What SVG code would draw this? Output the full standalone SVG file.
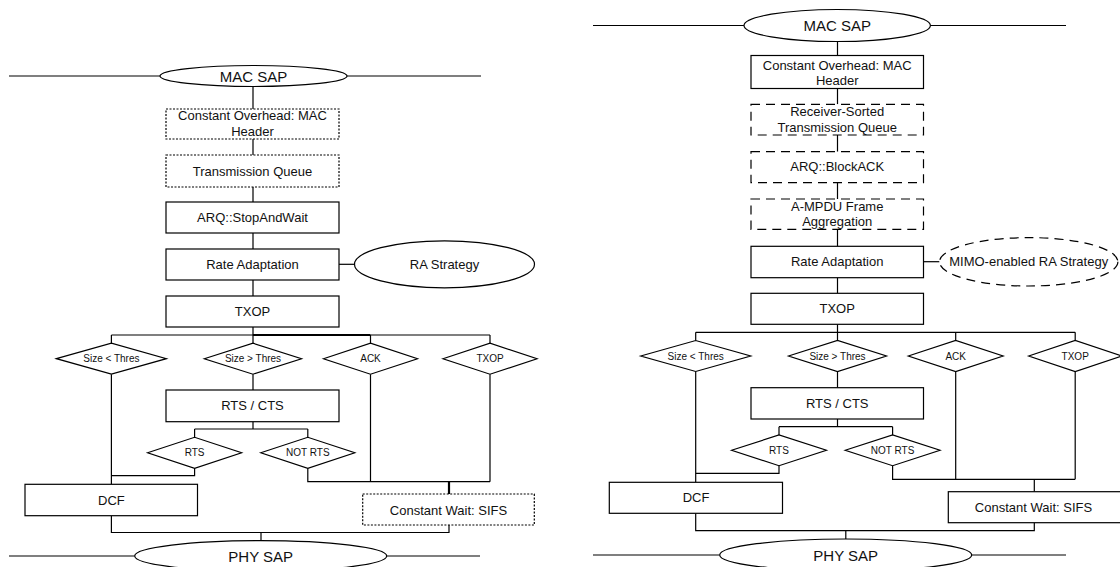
<svg xmlns="http://www.w3.org/2000/svg" width="1120" height="567" viewBox="0 0 1120 567">
<style>
  .bg{fill:#ffffff}
  .box{fill:#ffffff;stroke:#000;stroke-width:1.2}
  .dot{fill:#ffffff;stroke:#000;stroke-width:1.2;stroke-dasharray:2,1.5}
  .dash{fill:#ffffff;stroke:#000;stroke-width:1.2;stroke-dasharray:9,6}
  .ln{fill:none;stroke:#000;stroke-width:1.2}
  .thk{fill:none;stroke:#000;stroke-width:2.2}
  text{font-family:"Liberation Sans",Arial,sans-serif;fill:#111;text-anchor:middle;dominant-baseline:central}
  .t13{font-size:13px}
  .t15{font-size:15px}
  .t10{font-size:10px}
</style>
<rect class="bg" x="0" y="0" width="1120" height="567"/>

<!-- ================= LEFT DIAGRAM ================= -->
<g id="left-connectors">
  <path class="ln" d="M9,76 H160 M347,76 H481"/>
  <path class="ln" d="M253,86 V109 M253,139 V155 M253,187 V202 M253,233 V249 M253,280 V296 M253,327 V335"/>
  <path class="ln" d="M339,264.3 H354.6"/>
  <path class="ln" d="M111.4,335 H253 M370.5,335 H490 M111.4,335 V343.2 M253,335 V343.2 M370.5,335 V343.2 M490,335 V343.2"/>
  <path class="thk" d="M253,335 H370.5"/>
  <path class="ln" d="M253,374.2 V390 M253,421.7 V429 M194.6,429 H307.8 M194.6,429 V437.3 M307.8,429 V437.3"/>
  <path class="ln" d="M194.6,468.3 V475.7 H111.4 M111.4,374.2 V484.3"/>
  <path class="ln" d="M307.8,468.3 V481.7 H490 M370.5,374.2 V481.7 M490,374.2 V481.7"/>
  <path class="thk" d="M449,481.7 V494"/>
  <path class="ln" d="M111.4,515.7 V532.5 H449 V525 M261,532.5 V540.7"/>
  <path class="ln" d="M9,556 H134.7 M386.7,556 H480"/>
</g>

<g id="L-macsap"><ellipse class="box" cx="253.5" cy="76" rx="93.5" ry="10.5"/><text class="t15" x="253.5" y="76">MAC SAP</text></g>
<g id="L-overhead"><rect class="dot" x="166" y="109" width="173" height="30"/><text class="t13" x="252.5" y="115.5">Constant Overhead: MAC</text><text class="t13" x="252.5" y="131">Header</text></g>
<g id="L-queue"><rect class="dot" x="166" y="155" width="173" height="32"/><text class="t13" x="252.5" y="171">Transmission Queue</text></g>
<g id="L-arq"><rect class="box" x="166" y="202" width="173" height="31"/><text class="t13" x="252.5" y="217.5">ARQ::StopAndWait</text></g>
<g id="L-ra"><rect class="box" x="166" y="249" width="173" height="31"/><text class="t13" x="252.5" y="264.5">Rate Adaptation</text></g>
<g id="L-rastrategy"><ellipse class="box" cx="444.5" cy="264.3" rx="90" ry="23.5"/><text class="t13" x="444.5" y="264.3">RA Strategy</text></g>
<g id="L-txop"><rect class="box" x="166" y="296" width="173" height="31"/><text class="t13" x="252.5" y="311.5">TXOP</text></g>
<g id="L-d-small"><polygon class="box" points="56.4,358.7 111.4,343.2 166.4,358.7 111.4,374.2"/><text class="t10" x="111.4" y="358.7">Size &lt; Thres</text></g>
<g id="L-d-large"><polygon class="box" points="204.3,358.7 253,343.2 301.5,358.7 253,374.2"/><text class="t10" x="253" y="358.7">Size &gt; Thres</text></g>
<g id="L-d-ack"><polygon class="box" points="323.5,358.7 370.5,343.2 417.5,358.7 370.5,374.2"/><text class="t10" x="370.5" y="358.7">ACK</text></g>
<g id="L-d-txop"><polygon class="box" points="443,358.7 490,343.2 537,358.7 490,374.2"/><text class="t10" x="490" y="358.7">TXOP</text></g>
<g id="L-rtscts"><rect class="box" x="166" y="390" width="173" height="31.7"/><text class="t13" x="252.5" y="405.8">RTS / CTS</text></g>
<g id="L-d-rts"><polygon class="box" points="147.6,452.8 194.6,437.3 241.6,452.8 194.6,468.3"/><text class="t10" x="194.6" y="452.8">RTS</text></g>
<g id="L-d-notrts"><polygon class="box" points="260.8,452.8 307.8,437.3 354.8,452.8 307.8,468.3"/><text class="t10" x="307.8" y="452.8">NOT RTS</text></g>
<g id="L-dcf"><rect class="box" x="25" y="484.3" width="172.5" height="31.4"/><text class="t13" x="111.4" y="500">DCF</text></g>
<g id="L-sifs"><rect class="dot" x="362.7" y="494" width="171.6" height="31"/><text class="t13" x="448.5" y="510.5">Constant Wait: SIFS</text></g>
<g id="L-physap"><ellipse class="box" cx="260.7" cy="556" rx="126" ry="15.3"/><text class="t15" x="260.7" y="556">PHY SAP</text></g>

<!-- ================= RIGHT DIAGRAM ================= -->
<g id="right-connectors">
  <path class="ln" d="M593,25.5 H744 M930.5,25.5 H1066"/>
  <path class="ln" d="M837.5,41.5 V55.5 M837.5,88.5 V104.3 M837.5,135 V151.7 M837.5,182.7 V199 M837.5,229.3 V246.3 M837.5,277.7 V293.3 M837.5,324.3 V332.3"/>
  <path class="ln" d="M923.5,261.7 H939.5"/>
  <path class="ln" d="M695.7,332.3 H1075.2 M695.7,332.3 V340.5 M837.5,332.3 V340.5 M955.7,332.3 V340.5 M1075.2,332.3 V340.5"/>
  <path class="ln" d="M837.5,371.5 V387.7 M837.5,419 V426.7 M779,426.7 H892.6 M779,426.7 V435 M892.6,426.7 V435"/>
  <path class="ln" d="M779,465.7 V473.3 H695.7 M695.7,371.5 V482.3"/>
  <path class="ln" d="M892.6,465.7 V479.3 H1075.2 M955.7,371.5 V479.3 M1075.2,371.5 V479.3 M1034.3,479.3 V491.7"/>
  <path class="ln" d="M695.7,513.3 V530.7 H1034.3 V522.7 M845.8,530.7 V539"/>
  <path class="ln" d="M593,555 H719.7 M971.7,555 H1066"/>
</g>

<g id="R-macsap"><ellipse class="box" cx="837.2" cy="25.5" rx="93.2" ry="16"/><text class="t15" x="837.2" y="25.5">MAC SAP</text></g>
<g id="R-overhead"><rect class="box" x="751" y="55.5" width="172.5" height="33"/><text class="t13" x="837.2" y="65">Constant Overhead: MAC</text><text class="t13" x="837.2" y="80.7">Header</text></g>
<g id="R-queue"><rect class="dash" x="751" y="104.3" width="172.5" height="30.7"/><text class="t13" x="837.2" y="111.7">Receiver-Sorted</text><text class="t13" x="837.2" y="127.3">Transmission Queue</text></g>
<g id="R-arq"><rect class="dash" x="751" y="151.7" width="172.5" height="31"/><text class="t13" x="837.2" y="166.7">ARQ::BlockACK</text></g>
<g id="R-ampdu"><rect class="dash" x="751" y="199" width="172.5" height="30.3"/><text class="t13" x="837.2" y="206">A-MPDU Frame</text><text class="t13" x="837.2" y="221.7">Aggregation</text></g>
<g id="R-ra"><rect class="box" x="751" y="246.3" width="172.5" height="31.4"/><text class="t13" x="837.2" y="261.5">Rate Adaptation</text></g>
<g id="R-mimo"><ellipse class="dash" cx="1028.7" cy="261.8" rx="89.2" ry="24.2"/><text class="t13" x="1028.7" y="261.8">MIMO-enabled RA Strategy</text></g>
<g id="R-txop"><rect class="box" x="751" y="293.3" width="172.5" height="31"/><text class="t13" x="837.2" y="308.8">TXOP</text></g>
<g id="R-d-small"><polygon class="box" points="640.7,356 695.7,340.5 750.7,356 695.7,371.5"/><text class="t10" x="695.7" y="356">Size &lt; Thres</text></g>
<g id="R-d-large"><polygon class="box" points="788.5,356 837.5,340.5 886.5,356 837.5,371.5"/><text class="t10" x="837.5" y="356">Size &gt; Thres</text></g>
<g id="R-d-ack"><polygon class="box" points="908.3,356 955.7,340.5 1003.1,356 955.7,371.5"/><text class="t10" x="955.7" y="356">ACK</text></g>
<g id="R-d-txop"><polygon class="box" points="1028.7,356 1075.2,340.5 1121.7,356 1075.2,371.5"/><text class="t10" x="1075.2" y="356">TXOP</text></g>
<g id="R-rtscts"><rect class="box" x="751" y="387.7" width="172.5" height="31.3"/><text class="t13" x="837.2" y="403.3">RTS / CTS</text></g>
<g id="R-d-rts"><polygon class="box" points="731.6,450.3 779,435 826.4,450.3 779,465.7"/><text class="t10" x="779" y="450.3">RTS</text></g>
<g id="R-d-notrts"><polygon class="box" points="845.2,450.3 892.6,435 940,450.3 892.6,465.7"/><text class="t10" x="892.6" y="450.3">NOT RTS</text></g>
<g id="R-dcf"><rect class="box" x="609.3" y="482.3" width="173.2" height="31"/><text class="t13" x="696" y="497.8">DCF</text></g>
<g id="R-sifs"><rect class="box" x="948.3" y="491.7" width="173" height="31"/><text class="t13" x="1033.5" y="507.5">Constant Wait: SIFS</text></g>
<g id="R-physap"><ellipse class="box" cx="845.7" cy="555" rx="126" ry="16"/><text class="t15" x="845.7" y="555">PHY SAP</text></g>
</svg>
